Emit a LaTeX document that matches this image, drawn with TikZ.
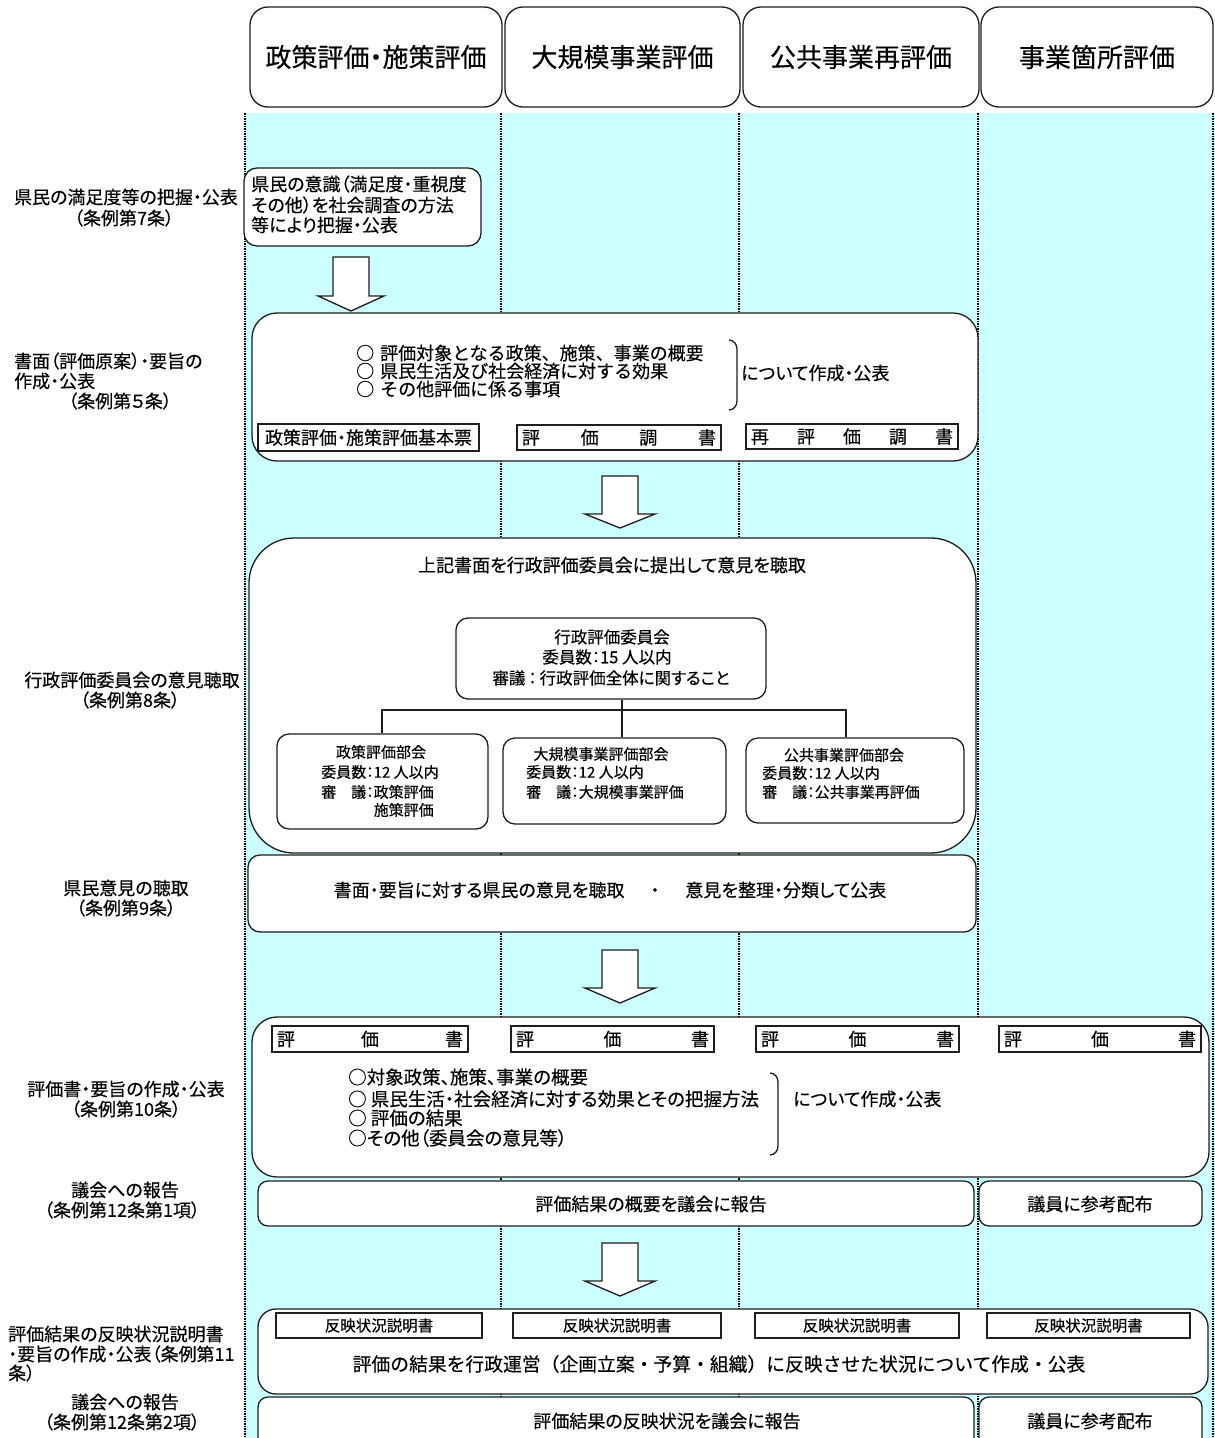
\documentclass[tikz,border=0pt]{standalone}
\usepackage{fontspec}
\setmainfont[RawFeature=+palt,FakeBold=0.3]{Noto Sans CJK JP}
\newfontfamily\fullw[FakeBold=0.3]{Noto Sans CJK JP}
\definecolor{lane}{RGB}{204,255,255}
\definecolor{ink}{RGB}{30,30,30}
\newcommand\myfs[1]{\fontsize{#1pt}{#1pt}\selectfont}
\newcommand\mkbox[6]{\node[bx, rounded corners=#6pt, minimum width={(#4)-(#2)}, minimum height={(#5)-(#3)}] (#1) at ({((#2)+(#4))/2},{((#3)+(#5))/2}) {};}
\newcommand\mkarrow[6]{\draw[blockarrow] ({#1-#2},#4) -- ({#1+#2},#4) -- ({#1+#2},#5) -- ({#1+#3},#5) -- (#1,#6) -- ({#1-#3},#5) -- ({#1-#2},#5) -- cycle;}
\tikzset{
  bx/.style={draw=ink, line width=1.3pt, fill=white, inner sep=0pt},
  txt/.style={inner sep=0pt, font=\myfs{18}, text=black},
  htxt/.style={inner sep=0pt, font=\myfs{26}, text=black},
  stxt/.style={inner sep=0pt, font=\myfs{15}, text=black},
  ctxt/.style={inner sep=0pt, font=\myfs{16.5}, text=black},
  lanedot/.style={draw=black, line width=2pt, dash pattern=on 1.5pt off 1pt},
  blockarrow/.style={draw=ink, line width=1.3pt, fill=white, line join=miter},
  brace/.style={draw=ink, line width=1.3pt},
  link/.style={draw=ink, line width=1.3pt}
}
\begin{document}
\begin{tikzpicture}[x=1pt,y=-1pt]
\useasboundingbox (0,0) rectangle (1215,1438);
\clip (0,0) rectangle (1215,1438);
\fill[white] (0,0) rectangle (1215,1438);
% lanes
\fill[lane] (244,113) rectangle (1215,1438);
\foreach \x in {245,501,739,978,1213} \draw[lanedot] (\x,113) -- (\x,1438);
% headers
\mkbox{h1}{250}{7}{502}{107}{18}
\mkbox{h2}{505}{7}{740}{107}{18}
\mkbox{h3}{743}{7}{979}{107}{18}
\mkbox{h4}{981}{7}{1213}{107}{18}
\node[htxt] (h1t) at (h1) {政策評価・施策評価};
\node[htxt] (h2t) at (h2) {大規模事業評価};
\node[htxt] (h3t) at (h3) {公共事業再評価};
\node[htxt] (h4t) at (h4) {事業箇所評価};
% left labels
\node[txt] (l1a) at (126,197) {県民の満足度等の把握・公表};
\node[txt] (l1b) at (124,218) {（条例第7条）};
\node[txt,anchor=west] (l2a) at (14,361) {書面（評価原案）・要旨の};
\node[txt,anchor=west] (l2b) at (14,381) {作成・公表};
\node[txt,anchor=west] (l2c) at (68,401) {（条例第５条）};
\node[txt] (l3a) at (132,680) {行政評価委員会の意見聴取};
\node[txt] (l3b) at (130,700) {（条例第8条）};
\node[txt] (l4a) at (126,888) {県民意見の聴取};
\node[txt] (l4b) at (126,908) {（条例第9条）};
\node[txt] (l5a) at (126,1089) {評価書・要旨の作成・公表};
\node[txt] (l5b) at (126,1109) {（条例第10条）};
\node[txt] (l6a) at (125,1190) {議会への報告};
\node[txt] (l6b) at (122,1210) {（条例第12条第1項）};
\node[txt,anchor=west] (l7a) at (8,1334) {評価結果の反映状況説明書};
\node[txt,anchor=west] (l7b) at (8,1354) {・要旨の作成・公表（条例第11};
\node[txt,anchor=west] (l7c) at (8,1373) {条）};
\node[txt] (l8a) at (125,1402) {議会への報告};
\node[txt] (l8b) at (122,1422) {（条例第12条第2項）};
% box 1
\mkbox{k1}{244}{168}{481}{246}{13}
\node[txt,anchor=west] (k1a) at (251,184) {県民の意識（満足度・重視度};
\node[txt,anchor=west] (k1b) at (251,205) {その他）を社会調査の方法};
\node[txt,anchor=west] (k1c) at (251,225) {等により把握・公表};
\mkarrow{351}{18}{33}{257}{296}{311}
% box 2
\mkbox{b2}{252}{313}{978}{461}{25}
\node[txt,anchor=west,font=\fullw\myfs{18}] (b2a) at (356,353) {○\hspace{6pt}評価対象となる政策、施策、事業の概要};
\node[txt,anchor=west,font=\fullw\myfs{18}] (b2b) at (356,371) {○\hspace{6pt}県民生活及び社会経済に対する効果};
\node[txt,anchor=west,font=\fullw\myfs{18}] (b2c) at (356,389) {○\hspace{6pt}その他評価に係る事項};
\draw[brace] (729,340) to[out=0,in=90] (737,349) -- (737,401) to[out=-90,in=0] (729,410);
\node[txt,anchor=west] (b2d) at (741,373) {について作成・公表};
\mkbox{s1}{258}{424}{479}{451}{0}
\mkbox{s2}{517}{425}{721}{450}{0}
\mkbox{s3}{746}{424}{958}{449}{0}
\node[txt] (s1t) at (s1) {政策評価・施策評価基本票};
\node[txt] (s2t) at (s2) {\makebox[194pt]{評\hfill 価\hfill 調\hfill 書}};
\node[txt] (s3t) at (s3) {\makebox[202pt]{再\hfill 評\hfill 価\hfill 調\hfill 書}};
\mkarrow{620}{18}{35}{476}{514}{528}
% box 3
\mkbox{b3}{249}{538}{976}{853}{45}
\node[txt] (b3t) at (612,565) {上記書面を行政評価委員会に提出して意見を聴取};
\mkbox{cb}{456}{618}{766}{699}{12}
\node[ctxt] (cb1) at (612,637) {行政評価委員会};
\node[ctxt] (cb2) at (607,657) {委員数：15 人以内};
\node[ctxt] (cb3) at (611,678) {審議\hspace{3pt}：\hspace{3pt}行政評価全体に関すること};
\mkbox{sA}{277}{734}{488}{829}{12}
\mkbox{sB}{503}{738}{726}{824}{12}
\mkbox{sC}{746}{738}{964}{823}{12}
\coordinate (jl) at (382,710);
\coordinate (jm) at (622,710);
\coordinate (jr) at (846,710);
\draw[link] (cb.south -| jm) -- (sB.north -| jm);
\draw[link] (sA.north -| jl) -- (jl) -- (jr) -- (sC.north -| jr);
\node[stxt] (sA1) at (381,752) {政策評価部会};
\node[stxt,anchor=west] (sA2) at (321,772) {委員数：12 人以内};
\node[stxt,anchor=west] (sA3) at (321,792) {審　議：政策評価};
\node[stxt,anchor=west] (sA4) at (321,810) {\phantom{審　議：}施策評価};
\node[stxt] (sB1) at (601,754) {大規模事業評価部会};
\node[stxt,anchor=west] (sB2) at (526,772) {委員数：12 人以内};
\node[stxt,anchor=west] (sB3) at (526,792) {審　議：大規模事業評価};
\node[stxt] (sC1) at (844,755) {公共事業評価部会};
\node[stxt,anchor=west] (sC2) at (762,773) {委員数：12 人以内};
\node[stxt,anchor=west] (sC3) at (762,792) {審　議：公共事業再評価};
% box 4
\mkbox{b4}{248}{855}{976}{932}{12}
\node[txt] (b4t) at (610,890) {書面・要旨に対する県民の意見を聴取\makebox[61pt]{・}意見を整理・分類して公表};
\mkarrow{620}{18}{35}{950}{988}{1003}
% box 5
\mkbox{b5}{252}{1017}{1209}{1177}{25}
\mkbox{e1}{272}{1026}{468}{1052}{0}
\mkbox{e2}{511}{1026}{714}{1052}{0}
\mkbox{e3}{756}{1026}{959}{1052}{0}
\mkbox{e4}{999}{1026}{1201}{1052}{0}
\node[txt] (e1t) at (e1) {\makebox[186pt]{評\hfill 価\hfill 書}};
\node[txt] (e2t) at (e2) {\makebox[193pt]{評\hfill 価\hfill 書}};
\node[txt] (e3t) at (e3) {\makebox[193pt]{評\hfill 価\hfill 書}};
\node[txt] (e4t) at (e4) {\makebox[192pt]{評\hfill 価\hfill 書}};
\node[txt,anchor=west,font=\myfs{18.5}] (b5a) at (348,1077) {○対象政策、施策、事業の概要};
\node[txt,anchor=west,font=\myfs{18.5}] (b5b) at (348,1099) {○ 県民生活・社会経済に対する効果とその把握方法};
\node[txt,anchor=west,font=\myfs{18.5}] (b5c) at (348,1118) {○ 評価の結果};
\node[txt,anchor=west,font=\myfs{18.5}] (b5d) at (348,1138) {○その他（委員会の意見等）};
\draw[brace] (770,1073) to[out=0,in=90] (778,1082) -- (778,1146) to[out=-90,in=0] (770,1155);
\node[txt,anchor=west] (b5e) at (793,1099) {について作成・公表};
% box 6
\mkbox{b6}{258}{1181}{974}{1226}{10}
\node[txt] (b6t) at (651,1204) {評価結果の概要を議会に報告};
\mkbox{b6r}{979}{1181}{1202}{1226}{10}
\node[txt] (b6rt) at (1090,1204) {議員に参考配布};
\mkarrow{620}{18}{35}{1243}{1281}{1296}
% box 7
\mkbox{b7}{258}{1309}{1208}{1394}{18}
\mkbox{r1}{276}{1313}{482}{1338}{0}
\mkbox{r2}{513}{1313}{721}{1338}{0}
\mkbox{r3}{755}{1313}{959}{1338}{0}
\mkbox{r4}{987}{1313}{1190}{1338}{0}
\node[stxt,font=\myfs{15.5}] (r1t) at (r1) {反映状況説明書};
\node[stxt,font=\myfs{15.5}] (r2t) at (r2) {反映状況説明書};
\node[stxt,font=\myfs{15.5}] (r3t) at (r3) {反映状況説明書};
\node[stxt,font=\myfs{15.5}] (r4t) at (r4) {反映状況説明書};
\node[txt,font=\fullw\myfs{18.8}] (b7t) at (719,1364) {評価の結果を行政運営（企画立案・予算・組織）に反映させた状況について作成・公表};
% box 8
\mkbox{b8}{258}{1397}{974}{1452}{10}
\node[txt] (b8t) at (667,1421) {評価結果の反映状況を議会に報告};
\mkbox{b8r}{979}{1397}{1202}{1452}{10}
\node[txt] (b8rt) at (1090,1421) {議員に参考配布};
\end{tikzpicture}
\end{document}
